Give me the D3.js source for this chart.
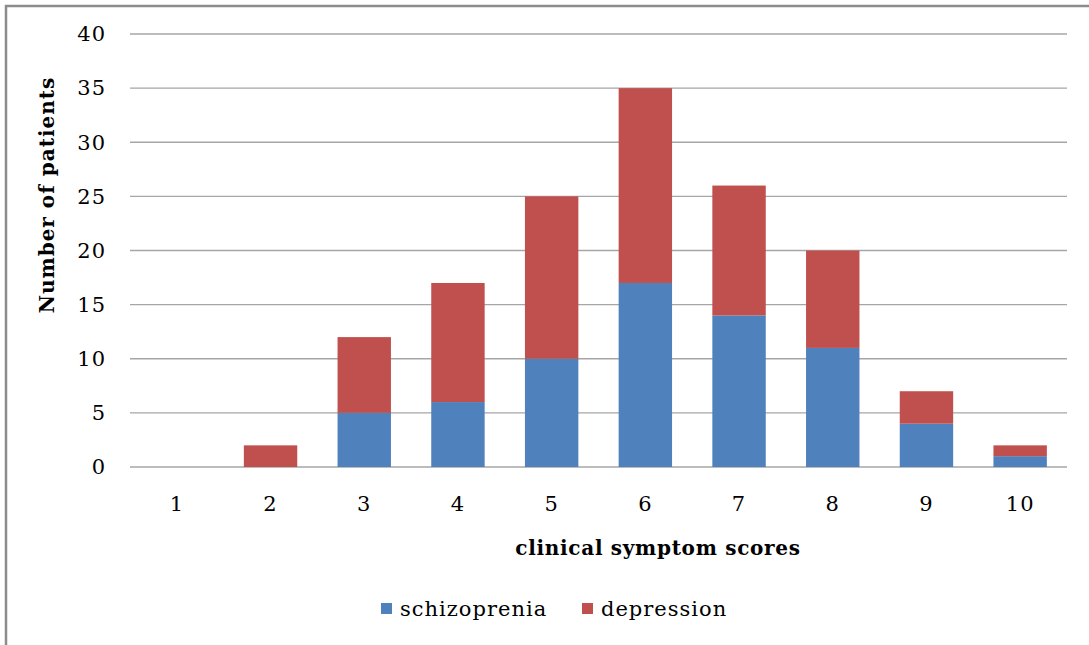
<!DOCTYPE html>
<html>
<head>
<meta charset="utf-8">
<script src="https://cdn.jsdelivr.net/npm/d3@7"></script>
<style>
  body { margin: 0; background: #fff; }
  svg text { font-family: "DejaVu Serif", "Liberation Serif", serif; fill: #000; }
</style>
</head>
<body>
<svg id="chart" width="1089" height="645"></svg>
<script>
// chart data
const scores = ["1", "2", "3", "4", "5", "6", "7", "8", "9", "10"]
const schizophrenia = [0, 0, 5, 6, 10, 17, 14, 11, 4, 1]
const depression = [0, 2, 7, 11, 15, 18, 12, 9, 3, 1]
const yTicks = [0, 5, 10, 15, 20, 25, 30, 35, 40]
const seriesNames = ["schizoprenia", "depression"]
const seriesColors = ["#4F81BD", "#C0504D"]

const svg = d3.select("#chart")

// outer frame (only top and left edges are visible in the picture)
svg.append("rect")
  .attr("x", 6).attr("y", 6).attr("width", 1200).attr("height", 800)
  .attr("fill", "none").attr("stroke", "#8c8c8c").attr("stroke-width", 2.5)

const x = d3.scaleBand().domain(scores).range([130, 1067]).paddingInner(0.43).paddingOuter(0.215)
const y = d3.scaleLinear().domain([0, 40]).range([467, 34])

// grid lines
svg.append("g").selectAll("line").data(yTicks).join("line")
  .attr("x1", 130).attr("x2", 1067)
  .attr("y1", d => y(d)).attr("y2", d => y(d))
  .attr("stroke", "#a6a6a6").attr("stroke-width", 1.3)

// stacked bars
const rows = scores.map((s, i) => ({score: s, schizo: schizophrenia[i], dep: depression[i]}))
const stack = d3.stack().keys(["schizo", "dep"])(rows)

svg.append("g").selectAll("g").data(stack).join("g")
  .attr("fill", (d, i) => seriesColors[i])
  .selectAll("rect").data(d => d.filter(p => p[1] > p[0])).join("rect")
    .attr("x", d => x(d.data.score))
    .attr("width", x.bandwidth())
    .attr("y", d => y(d[1]))
    .attr("height", d => y(d[0]) - y(d[1]))

// y axis labels
svg.append("g").selectAll("text").data(yTicks).join("text")
  .attr("x", 106).attr("y", d => y(d))
  .attr("dy", "0.35em")
  .attr("text-anchor", "end")
  .attr("font-size", 21).attr("letter-spacing", 1)
  .text(d => d)

// x axis labels
svg.append("g").selectAll("text").data(scores).join("text")
  .attr("x", d => x(d) + x.bandwidth() / 2).attr("y", 504)
  .attr("dy", "0.35em")
  .attr("text-anchor", "middle")
  .attr("font-size", 21).attr("letter-spacing", 1)
  .text(d => d)

// axis titles
svg.append("text")
  .attr("x", 658).attr("y", 548)
  .attr("dy", "0.35em")
  .attr("text-anchor", "middle")
  .attr("font-size", 20).attr("font-weight", "bold").attr("letter-spacing", 0.7)
  .text("clinical symptom scores")

svg.append("text")
  .attr("transform", "translate(47,195) rotate(-90)")
  .attr("dy", "0.35em")
  .attr("text-anchor", "middle")
  .attr("font-size", 20).attr("font-weight", "bold").attr("letter-spacing", 1)
  .text("Number of patients")

// legend
const legendX = [381, 582]
const legend = svg.append("g").selectAll("g").data(seriesNames).join("g")
  .attr("transform", (d, i) => `translate(${legendX[i]},603)`)
legend.append("rect")
  .attr("width", 11).attr("height", 11)
  .attr("fill", (d, i) => seriesColors[i])
legend.append("text")
  .attr("x", 19).attr("y", 6)
  .attr("dy", "0.35em")
  .attr("font-size", 21).attr("letter-spacing", 1)
  .text(d => d)
</script>
</body>
</html>
